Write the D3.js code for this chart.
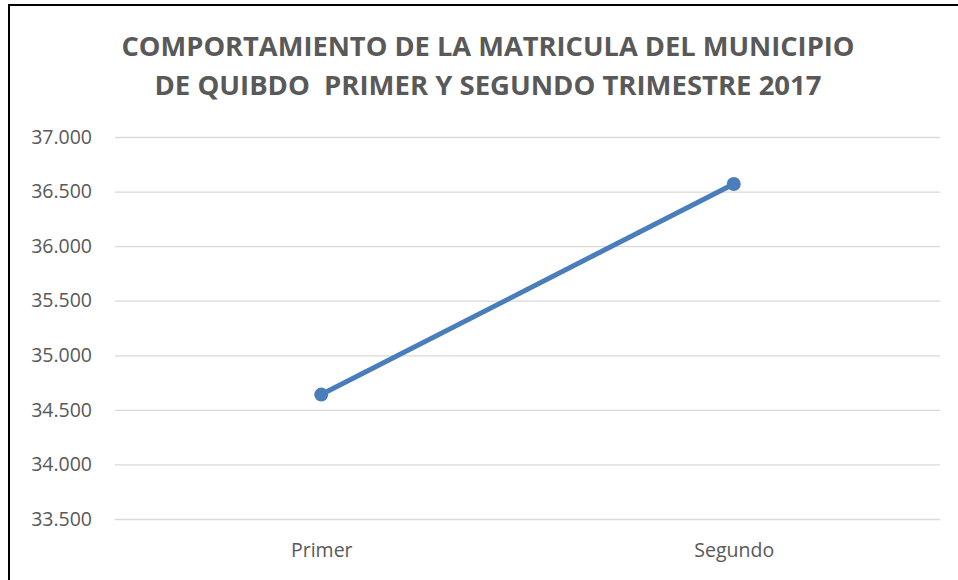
<!DOCTYPE html>
<html lang="es">
<head>
  <meta charset="UTF-8">
  <title>Matricula Quibdo 2017</title>
  <style>
    body { margin: 0; background: #fff; }
    .main { width: 958px; height: 580px; }
    text { font-family: "Open Sans", "Liberation Sans", sans-serif; fill: #595959; }
    .title { white-space: pre; }
  </style>
  <script src="https://cdn.jsdelivr.net/npm/d3@7"></script>
</head>
<body>
  <div class="main"></div>
  <script>
  var categories = ["Primer", "Segundo"];
  var values = [34640, 36570];
  var yTicks = [33500, 34000, 34500, 35000, 35500, 36000, 36500, 37000];
  var titleLines = ["COMPORTAMIENTO DE LA MATRICULA DEL MUNICIPIO",
                    "DE QUIBDO  PRIMER Y SEGUNDO TRIMESTRE 2017"];

  var width = 958, height = 580;
  var margin = {top: 137, right: 18, bottom: 61, left: 115};

  var svg = d3.select(".main").append("svg")
      .attr("width", width)
      .attr("height", height);

  // chart frame
  svg.append("path")
      .attr("d", "M9,600 L9,5 L960,5")
      .attr("fill", "none")
      .attr("stroke", "#000")
      .attr("stroke-width", 2);

  svg.selectAll(".title")
      .data(titleLines)
    .enter().append("text")
      .attr("class", "title")
      .attr("x", 488)
      .attr("y", function(d, i) { return 56 + i * 39; })
      .attr("text-anchor", "middle")
      .attr("font-size", 26)
      .attr("font-weight", "bold")
      .attr("textLength", function(d, i) { return i ? 667 : 733; })
      .attr("lengthAdjust", "spacingAndGlyphs")
      .text(function(d) { return d; });

  var x = d3.scalePoint()
      .domain(categories)
      .range([margin.left, width - margin.right])
      .padding(0.5);

  var y = d3.scaleLinear()
      .domain([33500, 37000])
      .range([height - margin.bottom, margin.top]);

  var fmt = function(d) { return d3.format(",.0f")(d).replace(/,/g, "."); };

  var yAxis = svg.append("g")
      .attr("transform", "translate(" + margin.left + ",0)")
      .call(d3.axisLeft(y)
          .tickValues(yTicks)
          .tickSize(-(width - margin.left - margin.right))
          .tickPadding(23)
          .tickFormat(fmt));
  yAxis.select(".domain").remove();
  yAxis.selectAll("line").attr("stroke", "#d9d9d9").attr("stroke-width", 1.3);
  yAxis.selectAll("text").attr("font-size", 19.5).attr("fill", "#595959");

  var xAxis = svg.append("g")
      .attr("transform", "translate(0," + (height - margin.bottom) + ")")
      .call(d3.axisBottom(x).tickSize(0).tickPadding(24));
  xAxis.select(".domain").remove();
  xAxis.selectAll("text").attr("font-size", 19.5).attr("fill", "#595959");

  var line = d3.line()
      .x(function(d, i) { return x(categories[i]); })
      .y(function(d) { return y(d); });

  svg.append("path")
      .datum(values)
      .attr("d", line)
      .attr("fill", "none")
      .attr("stroke", "#4a7ebb")
      .attr("stroke-width", 5)
      .attr("stroke-linecap", "round");

  svg.selectAll(".dot")
      .data(values)
    .enter().append("circle")
      .attr("class", "dot")
      .attr("cx", function(d, i) { return x(categories[i]); })
      .attr("cy", function(d) { return y(d); })
      .attr("r", 7)
      .attr("fill", "#4a7ebb");
  </script>
</body>
</html>
